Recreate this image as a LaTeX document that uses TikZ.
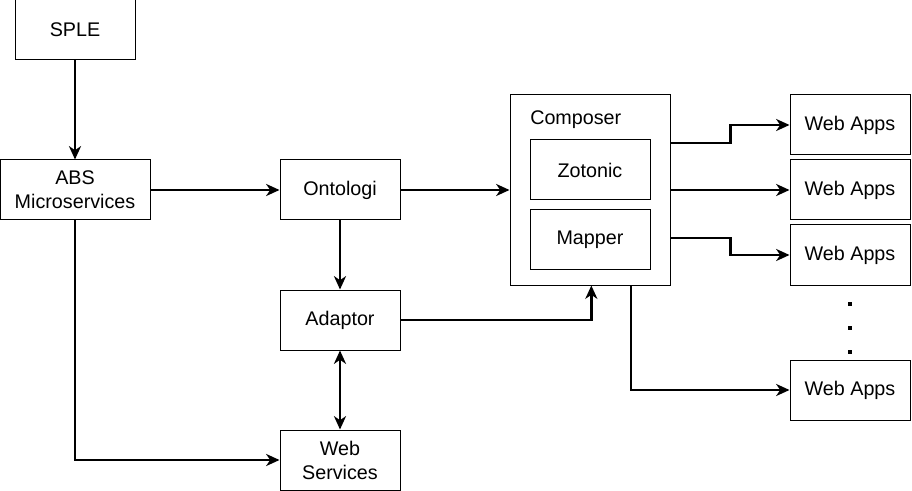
\documentclass[tikz,border=0pt]{standalone}
\usepackage{fontspec}
\setmainfont{Liberation Sans}
\usetikzlibrary{arrows.meta,calc}

\begin{document}
\begin{tikzpicture}[x=0.75pt, y=-0.75pt,
  font=\fontsize{14.8}{18}\selectfont,
  box/.style={draw, line width=0.75pt, minimum width=90pt, minimum height=45pt, align=center, inner sep=0pt},
  arr/.style={line width=1.8pt, -{Stealth[length=10pt, width=9pt, inset=3pt]}},
  dotmark/.style={fill, rectangle, minimum size=2.3pt, inner sep=0pt}]
\useasboundingbox (0,0) rectangle (912,491);
\node[box] (SPLE) at (75,30) {SPLE};
\node[box, minimum width=112.5pt] (ABS) at (75,190) {ABS\\Microservices};
\draw[arr] (SPLE) -- (ABS);
\node[box] (Onto) at (340,190) {Ontologi};
\draw[arr] (ABS) -- (Onto);
\node[box] (Adapt) at (340,320) {Adaptor};
\draw[arr] (Onto) -- (Adapt);
\node[box] (WS) at (340,460) {Web\\Services};
\draw[arr, {Stealth[length=10pt, width=9pt, inset=3pt]}-{Stealth[length=10pt, width=9pt, inset=3pt]}] (Adapt) -- (WS);
\draw[arr] (ABS.south) |- (WS);
% composer with its two parts
\node[box, minimum width=120pt, minimum height=142.5pt] (Comp) at (590,190) {};
\node[anchor=west, inner sep=0pt] (CompLbl) at (530,120) {Composer};
\node[box] (Zot) at (590,170) {Zotonic};
\node[box] (Map) at (590,240) {Mapper};
\draw[arr] (Onto) -- (Comp);
\draw[arr] (Adapt.east) -| ([xshift=1pt]Comp.south);
% web apps
\node[box] (WA_1) at (850,125) {Web Apps};
\node[box] (WA_2) at (850,190) {Web Apps};
\node[box] (WA_3) at (850,255) {Web Apps};
\node[box] (WA_4) at (850,390) {Web Apps};
\node[dotmark] (D_1) at (850,304) {};
\node[dotmark] (D_2) at (850,328) {};
\node[dotmark] (D_3) at (850,352) {};
\draw[arr] ($(Comp.east)+(0,-47)$) -- ++(60,0) |- (WA_1);
\draw[arr] (Comp) -- (WA_2);
\draw[arr] ($(Comp.east)+(0,48)$) -- ++(60,0) |- (WA_3);
\draw[arr] ($(Comp.south)+(41,0)$) |- (WA_4);
\end{tikzpicture}
\end{document}
